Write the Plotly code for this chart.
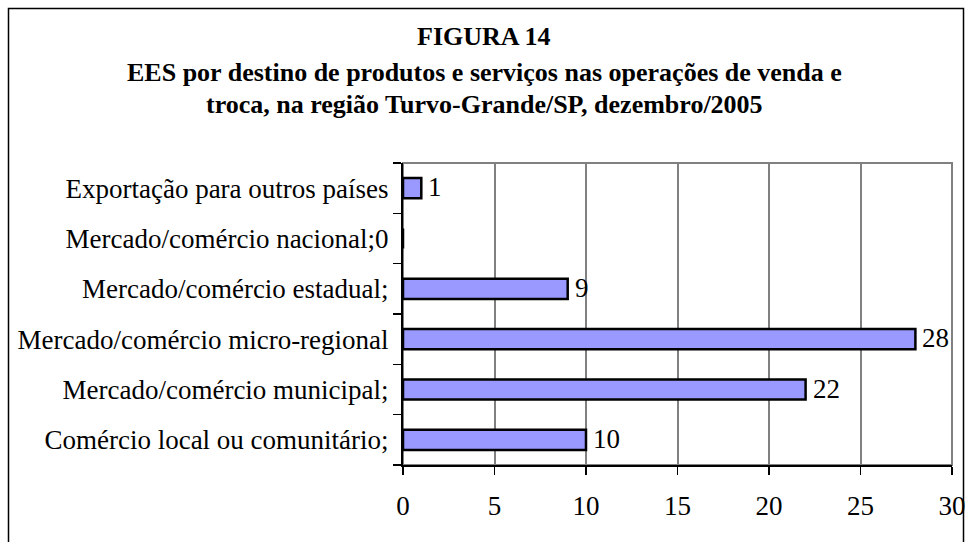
import plotly.graph_objects as go

categories = [
    "Comércio local ou comunitário;",
    "Mercado/comércio municipal;",
    "Mercado/comércio micro-regional",
    "Mercado/comércio estadual;",
    "Mercado/comércio nacional;0",
    "Exportação para outros países",
]
values = [10, 22, 28, 9, 0, 1]
x_ticks = [0, 5, 10, 15, 20, 25, 30]
title_lines = [
    "FIGURA 14",
    "EES por destino de produtos e serviços nas operações de venda e",
    "troca, na região Turvo-Grande/SP, dezembro/2005",
]

FONT = "Liberation Serif, Times New Roman, serif"
FS = 27
W, H = 966, 542
L, R, T, B = 403, 14, 163, 77

fig = go.Figure(
    go.Bar(
        y=categories,
        x=values,
        orientation="h",
        width=0.4,
        marker=dict(color="#9999FF", line=dict(color="#000000", width=2.5)),
        hoverinfo="skip",
    )
)

pw = W - L - R
ph = H - T - B

def px_x(p):
    return (p - L) / pw

def px_y(p):
    return 1 - (p - T) / ph

shapes = [
    dict(type="rect", xref="x domain", yref="y domain", x0=0, x1=1, y0=0, y1=1,
         line=dict(color="#808080", width=2), layer="below"),
    dict(type="rect", xref="paper", yref="paper",
         x0=px_x(8.5), x1=px_x(963.5), y0=px_y(560), y1=px_y(8.5),
         line=dict(color="#000000", width=1.5), layer="below"),
]

annotations = []
ys = [37, 72, 104]
for line, yy in zip(title_lines, ys):
    annotations.append(dict(
        text="<b>" + line + "</b>", xref="paper", yref="paper",
        x=px_x(484), y=px_y(yy), xanchor="center", yanchor="middle",
        showarrow=False, font=dict(family=FONT, size=26, color="#000"),
    ))

# data labels
for cat, v in zip(categories, values):
    if v == 0:
        continue
    annotations.append(dict(
        text=str(v), x=v, y=cat, xref="x", yref="y",
        xanchor="left", yanchor="middle", xshift=5, yshift=1,
        showarrow=False, font=dict(family=FONT, size=FS, color="#000"),
    ))

fig.update_layout(
    width=W, height=H,
    margin=dict(l=L, r=R, t=T, b=B, autoexpand=False),
    paper_bgcolor="white", plot_bgcolor="white",
    showlegend=False,
    shapes=shapes,
    annotations=annotations,
    font=dict(family=FONT, size=FS, color="#000"),
)

fig.update_xaxes(
    range=[0, 30], tickvals=x_ticks, ticktext=[str(v) for v in x_ticks],
    showgrid=True, gridcolor="#808080", gridwidth=2,
    showline=True, linecolor="#000", linewidth=2,
    ticks="outside", ticklen=8, tickcolor="#000", tickwidth=1.5,
    ticklabelstandoff=8, zeroline=False, automargin=False,
    tickfont=dict(family=FONT, size=FS, color="#000"),
)
fig.update_yaxes(
    type="category", categoryorder="array", categoryarray=categories,
    showgrid=False, showline=True, linecolor="#000", linewidth=2,
    ticks="outside", ticklen=8, tickcolor="#000", tickwidth=1.5,
    tickson="boundaries", ticklabelstandoff=7, automargin=False,
    tickfont=dict(family=FONT, size=FS, color="#000"),
)

fig.write_html(
    "out.html",
    config={"displayModeBar": False, "staticPlot": True},
    post_script="document.body.style.margin='0';",
)
